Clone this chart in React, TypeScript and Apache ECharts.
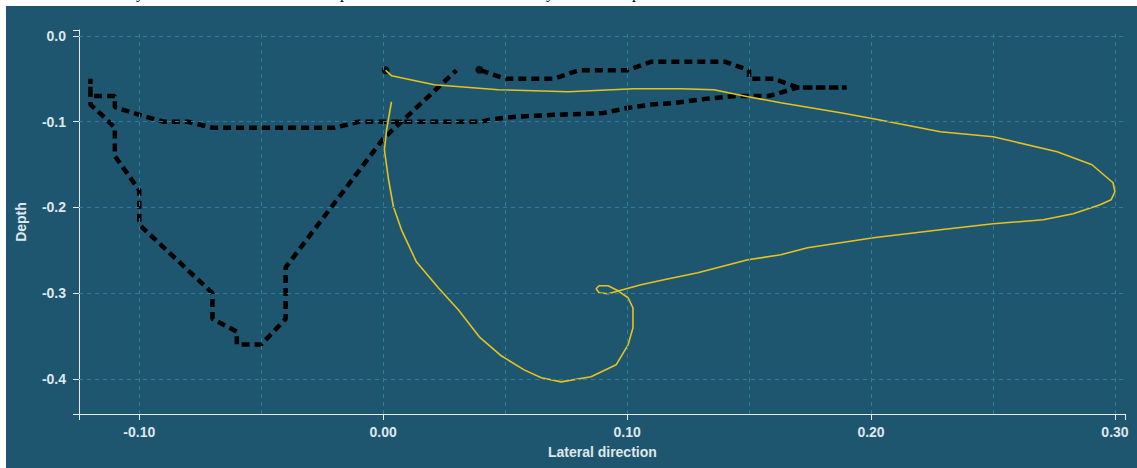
import React, { useEffect, useRef } from "react";
import * as echarts from "echarts";

// Axis extents (domain)
const xDomain = [-0.1247, 0.3044];
const yDomain = [-0.441, 0.007];

// Tick labels
const xTickLabels = [-0.1, 0.0, 0.1, 0.2, 0.3];
const yTickLabels = [0.0, -0.1, -0.2, -0.3, -0.4];

// Grid lines
const xGridValues = [-0.1, -0.05, 0.0, 0.05, 0.1, 0.15, 0.2, 0.25, 0.3];
const yGridValues = [0.0, -0.1, -0.2, -0.3, -0.4];

// Black dashed trajectory [lateral, depth]
const blackPath: number[][] = [
  [0.04, -0.04], [0.05, -0.05], [0.07, -0.05], [0.08, -0.04], [0.1, -0.04],
  [0.11, -0.03], [0.14, -0.03], [0.15, -0.04], [0.15, -0.05], [0.16, -0.05],
  [0.17, -0.06], [0.19, -0.06], [0.17, -0.06], [0.163, -0.066], [0.158, -0.07],
  [0.145, -0.07], [0.13, -0.074], [0.12, -0.078], [0.11, -0.08], [0.1, -0.084],
  [0.09, -0.09], [0.07, -0.092], [0.055, -0.094], [0.045, -0.097], [0.04, -0.1],
  [0.0, -0.1], [-0.01, -0.1], [-0.02, -0.107], [-0.07, -0.107], [-0.08, -0.1],
  [-0.09, -0.1], [-0.1, -0.092], [-0.11, -0.083], [-0.11, -0.07], [-0.12, -0.07],
  [-0.12, -0.05], [-0.12, -0.08], [-0.115, -0.093], [-0.11, -0.107], [-0.11, -0.14],
  [-0.1, -0.18], [-0.1, -0.22], [-0.07, -0.3], [-0.07, -0.33], [-0.06, -0.345],
  [-0.06, -0.36], [-0.05, -0.36], [-0.04, -0.33], [-0.04, -0.27], [0.0, -0.12],
  [0.03, -0.04],
];

// Yellow trajectory [lateral, depth]
const yellowPath: number[][] = [
  [0.001, -0.040], [0.0034, -0.0463], [0.021, -0.0568], [0.0472, -0.0627], [0.0758, -0.065],
  [0.1028, -0.0615], [0.1221, -0.0615], [0.1356, -0.0627], [0.1495, -0.0708], [0.163, -0.0778],
  [0.1875, -0.0895], [0.201, -0.0965], [0.2284, -0.1117], [0.2501, -0.1175], [0.2763, -0.135],
  [0.2906, -0.1502], [0.2992, -0.1712], [0.3, -0.1817], [0.2984, -0.1911], [0.2939, -0.1969],
  [0.2829, -0.2074], [0.2706, -0.2144], [0.2501, -0.2191], [0.2284, -0.2261], [0.201, -0.2354],
  [0.174, -0.2471], [0.163, -0.2553], [0.1495, -0.2611], [0.129, -0.2763], [0.1151, -0.2844],
  [0.1057, -0.2903], [0.0967, -0.2973], [0.0922, -0.3008], [0.0885, -0.2996], [0.0873, -0.2949],
  [0.0885, -0.2914], [0.0922, -0.2914], [0.0963, -0.2973], [0.1004, -0.3054], [0.1024, -0.3171],
  [0.1024, -0.3405], [0.1004, -0.3603], [0.0955, -0.3836], [0.0852, -0.3976], [0.073, -0.4035],
  [0.0648, -0.3988], [0.0578, -0.3895], [0.0484, -0.3731], [0.0394, -0.351], [0.0308, -0.3194],
  [0.0226, -0.2938], [0.0136, -0.2634], [0.0075, -0.2261], [0.0042, -0.1992], [0.0022, -0.1677],
  [0.0005, -0.1327], [0.0014, -0.1094], [0.0034, -0.0767],
];

// Start markers
const startPoints: number[][] = [
  [0.001, -0.040],
  [0.0394, -0.0393],
];

const AXIS_COLOR = "#e4ecf0";
const LABEL_COLOR = "#dfe7ec";
const GRID_COLOR = "#2d7d9d";
const BG = "#1e5670";
const FONT = "'Liberation Sans', Arial, sans-serif";

export default function App() {
  const ref = useRef<HTMLDivElement>(null);

  useEffect(() => {
    if (!ref.current) return;
    const chart = echarts.init(ref.current, undefined, { renderer: "svg" });
    const labelStyle = {
      color: LABEL_COLOR,
      fontSize: 14,
      fontWeight: "bold" as const,
      fontFamily: FONT,
    };
    chart.setOption({
      animation: false,
      backgroundColor: BG,
      grid: { left: 71, right: 11.3, top: 24, bottom: 54, containLabel: false },
      xAxis: {
        type: "value",
        min: xDomain[0],
        max: xDomain[1],
        name: "Lateral direction",
        nameLocation: "middle",
        nameGap: 31,
        nameTextStyle: labelStyle,
        axisLine: { show: true, onZero: false, lineStyle: { color: AXIS_COLOR, width: 1 } },
        axisTick: {
          show: true,
          length: 6,
          lineStyle: { color: AXIS_COLOR },
          customValues: [xDomain[0], ...xTickLabels, xDomain[1]],
        },
        axisLabel: {
          ...labelStyle,
          margin: 11,
          customValues: xTickLabels,
          formatter: (v: number) => v.toFixed(2),
        },
        splitLine: { show: false },
      },
      yAxis: {
        type: "value",
        min: yDomain[0],
        max: yDomain[1],
        name: "Depth",
        nameLocation: "middle",
        nameGap: 51,
        nameRotate: 90,
        nameTextStyle: labelStyle,
        axisLine: { show: true, onZero: false, lineStyle: { color: AXIS_COLOR, width: 1 } },
        axisTick: {
          show: true,
          length: 6,
          lineStyle: { color: AXIS_COLOR },
          customValues: [yDomain[0], ...yTickLabels, yDomain[1]],
        },
        axisLabel: {
          ...labelStyle,
          margin: 13,
          customValues: yTickLabels,
          formatter: (v: number) => v.toFixed(1),
        },
        splitLine: { show: false },
      },
      series: [
        {
          type: "line",
          name: "grid",
          data: [],
          silent: true,
          markLine: {
            silent: true,
            symbol: ["none", "none"],
            label: { show: false },
            lineStyle: { color: GRID_COLOR, type: [4, 4], width: 1 },
            emphasis: { disabled: true },
            data: [
              ...xGridValues.map((v) => ({ xAxis: v })),
              ...yGridValues.map((v) => ({ yAxis: v })),
            ],
          },
        },
        {
          type: "line",
          name: "black",
          data: blackPath,
          showSymbol: false,
          silent: true,
          lineStyle: { color: "#000000", width: 4.5, type: [8, 5] },
        },
        {
          type: "line",
          name: "yellow",
          data: yellowPath,
          showSymbol: false,
          silent: true,
          lineStyle: { color: "#e6c31b", width: 1.6 },
        },
        {
          type: "scatter",
          name: "start",
          data: startPoints,
          symbolSize: 8,
          silent: true,
          itemStyle: { color: "#000000" },
        },
      ],
    });
    return () => chart.dispose();
  }, []);

  const glyph = (left: number, ch: string) => (
    <span
      style={{
        position: "absolute",
        left,
        top: -15,
        lineHeight: "16px",
        fontSize: 16,
        fontFamily: "'Liberation Serif', serif",
        color: "#000",
      }}
    >
      {ch}
    </span>
  );

  return (
    <div
      style={{
        position: "fixed",
        left: 0,
        top: 0,
        width: 1137,
        height: 468,
        background: "#ffffff",
        overflow: "hidden",
      }}
    >
      {glyph(136, "y")}
      {glyph(340, "p")}
      {glyph(546, "y")}
      {glyph(632, "p")}
      <div
        ref={ref}
        style={{ position: "absolute", left: 6, top: 6, width: 1131, height: 462 }}
      />
    </div>
  );
}
